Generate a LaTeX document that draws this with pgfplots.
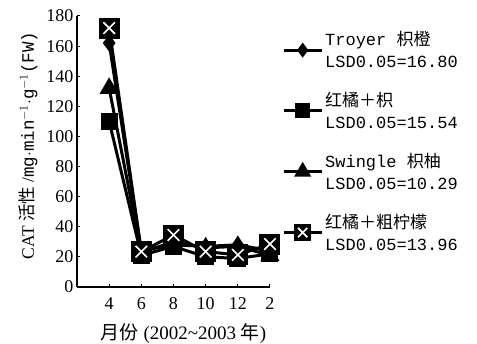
\documentclass[border=0pt]{standalone}
\usepackage{pgfplots}
\pgfplotsset{compat=1.18}
\usepackage{fontspec}
\setmainfont{Liberation Serif}
\newfontfamily\cjk{Noto Sans CJK SC}
\newfontfamily\mono{Liberation Mono}
\renewcommand{\arraystretch}{1.1}
\pgfdeclareplotmark{xbox}{%
  \pgfpathrectangle{\pgfpoint{-\pgfplotmarksize}{-\pgfplotmarksize}}{\pgfpoint{2\pgfplotmarksize}{2\pgfplotmarksize}}%
  \pgfusepathqfill
  \begin{pgfscope}
  \pgfsetstrokecolor{white}\pgfsetlinewidth{1.6pt}%
  \pgfpathmoveto{\pgfpoint{-0.55\pgfplotmarksize}{-0.55\pgfplotmarksize}}%
  \pgfpathlineto{\pgfpoint{0.55\pgfplotmarksize}{0.55\pgfplotmarksize}}%
  \pgfpathmoveto{\pgfpoint{-0.55\pgfplotmarksize}{0.55\pgfplotmarksize}}%
  \pgfpathlineto{\pgfpoint{0.55\pgfplotmarksize}{-0.55\pgfplotmarksize}}%
  \pgfusepathqstroke
  \end{pgfscope}}
\begin{document}
\begin{tikzpicture}
\useasboundingbox (0,0) rectangle (477pt,344pt);
\begin{axis}[
  at={(77pt,57pt)}, anchor=south west,
  scale only axis, width=193pt, height=271pt,
  xmin=-1, xmax=5, ymin=0, ymax=180,
  axis x line*=bottom, axis y line*=left,
  axis line style={line width=1.2pt},
  xtick={0,1,2,3,4,5}, xticklabels={4,6,8,10,12,2},
  ytick={0,20,...,180},
  tick align=inside, major tick length=3pt,
  tick style={line width=1pt, black},
  tick label style={font=\rmfamily\fontsize{18}{20}\selectfont},
  xticklabel style={yshift=-7pt},
  /pgf/number format/assume math mode=true,
  xlabel={{\cjk 月份} (2002\textasciitilde 2003 {\cjk 年})},
  xlabel style={font=\fontsize{19}{21}\selectfont, xshift=10pt, yshift=-7pt},
  ylabel={CAT {\cjk 活性} /{\mono mg$\cdot$min$^{-1}\cdot$g$^{-1}$(FW)}},
  ylabel style={font=\fontsize{17.5}{19}\selectfont, yshift=2pt, xshift=6pt},
  legend style={at={(1.0,1.0)}, anchor=north west, draw=none, fill=none,
    font=\fontsize{17}{20}\selectfont, row sep=29pt, inner sep=0pt, xshift=12pt, yshift=-12pt},
  legend cell align=left,
  legend image code/.code={\draw[mark repeat=2,mark phase=2,yshift=-6pt] plot coordinates {(0pt,0pt) (19pt,0pt) (38pt,0pt)};},
  every axis plot/.append style={line width=3pt, black},
]
\addplot[mark=diamond*, mark size=6pt, mark options={solid, fill=black}, legend image post style={mark size=5pt}] coordinates {(0,162) (1,24) (2,28) (3,27) (4,28) (5,24)};
\addlegendentry{\begin{tabular}{@{}l@{}}{\mono Troyer }{\cjk 枳橙}\\{\mono LSD0.05=16.80}\end{tabular}}
\addplot[mark=square*, mark size=7pt, mark options={solid, fill=black}, legend image post style={mark size=6pt}] coordinates {(0,110) (1,21) (2,27) (3,20) (4,19) (5,22)};
\addlegendentry{\begin{tabular}{@{}l@{}}{\cjk 红橘＋枳}\\{\mono LSD0.05=15.54}\end{tabular}}
\addplot[mark=triangle*, mark size=8pt, mark options={solid, fill=black}, legend image post style={mark size=7pt}] coordinates {(0,132) (1,23) (2,30) (3,26) (4,27) (5,21)};
\addlegendentry{\begin{tabular}{@{}l@{}}{\mono Swingle }{\cjk 枳柚}\\{\mono LSD0.05=10.29}\end{tabular}}
\addplot[mark=xbox, mark size=10.5pt, mark options={solid, fill=black}, legend image post style={mark size=8.5pt}] coordinates {(0,172) (1,23.5) (2,34.5) (3,23.5) (4,21.3) (5,28.5)};
\addlegendentry{\begin{tabular}{@{}l@{}}{\cjk 红橘＋粗柠檬}\\{\mono LSD0.05=13.96}\end{tabular}}
\end{axis}
\end{tikzpicture}
\end{document}
